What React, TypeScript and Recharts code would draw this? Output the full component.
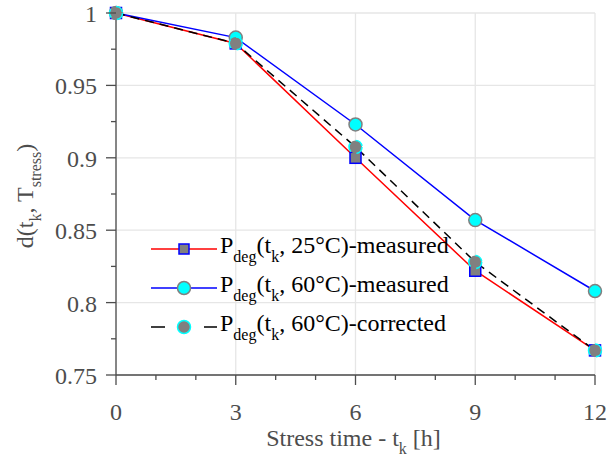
import React from 'react';
import { LineChart, Line, XAxis, YAxis, CartesianGrid, Legend } from 'recharts';

// stress time t_k [h]
const stressHours = [0, 3, 6, 9, 12];
// d(t_k, T_stress)
const measured25 = [1, 0.979, 0.9, 0.822, 0.767];
const measured60 = [1, 0.983, 0.923, 0.857, 0.808];
const corrected60 = [1, 0.979, 0.9075, 0.828, 0.767];

const xTicks = [0, 1, 2, 3, 4, 5, 6, 7, 8, 9, 10, 11, 12];
const xMajor = [0, 3, 6, 9, 12];
const yTicks = [0.75, 0.775, 0.8, 0.825, 0.85, 0.875, 0.9, 0.925, 0.95, 0.975, 1];
const yMajor = [0.75, 0.8, 0.85, 0.9, 0.95, 1];

const legendItems = [
  { key: 'm25', temp: '25°C', kind: 'measured' },
  { key: 'm60', temp: '60°C', kind: 'measured' },
  { key: 'c60', temp: '60°C', kind: 'corrected' },
];

const FONT = 'Liberation Serif';
const AXIS = '#4d4d4d';
const pageCss = `
body{margin:0}
#root .fig text, #root .fig tspan, #root .fig .recharts-wrapper text, #root .fig .recharts-wrapper tspan {
  font-family: "Liberation Serif", "Times New Roman", serif !important;
}`;

const data = stressHours.map((t, i) => ({
  t,
  m25: measured25[i],
  m60: measured60[i],
  c60: corrected60[i],
}));

const XTick = (props: any) => {
  const { x, y, payload } = props;
  const major = xMajor.includes(payload.value);
  return (
    <g>
      <line x1={x} x2={x} y1={y} y2={y + (major ? 10 : 5)} stroke={AXIS} strokeWidth={1.3} />
      {major && (
        <text x={x} y={y + 45} textAnchor="middle" fontFamily={FONT} fontSize={24} fill={AXIS}>
          {payload.value}
        </text>
      )}
    </g>
  );
};

const YTick = (props: any) => {
  const { x, y, payload } = props;
  const major = yMajor.includes(payload.value);
  return (
    <g>
      <line x1={x - (major ? 10 : 5)} x2={x} y1={y} y2={y} stroke={AXIS} strokeWidth={1.3} />
      {major && (
        <text x={x - 19} y={y + 9} textAnchor="end" fontFamily={FONT} fontSize={24} fill={AXIS}>
          {String(payload.value)}
        </text>
      )}
    </g>
  );
};

const XLabel = (props: any) => {
  const { x, y, width } = props.viewBox;
  return (
    <text x={x + width / 2 - 2} y={y + 71} textAnchor="middle" fontFamily={FONT} fontSize={24} fill={AXIS}>
      Stress time - t<tspan fontSize={16} dy={8}>k</tspan>
      <tspan dy={-8}> [h]</tspan>
    </text>
  );
};

const YLabel = (props: any) => {
  const { x, y, height } = props.viewBox;
  const cx = x + 33;
  const cy = y + height / 2 + 2;
  return (
    <text x={cx} y={cy} transform={`rotate(-90, ${cx}, ${cy})`} textAnchor="middle"
      fontFamily={FONT} fontSize={24} fill={AXIS}>
      d(t<tspan fontSize={16} dy={8}>k</tspan>
      <tspan dy={-8}>, T</tspan>
      <tspan fontSize={16} dy={8}>stress</tspan>
      <tspan dy={-8}>)</tspan>
    </text>
  );
};

const Square = (props: any) => {
  const { cx, cy, index } = props;
  return <rect key={`sq-${index}`} x={cx - 5.5} y={cy - 5.5} width={11} height={11} fill="#808080" stroke="#0000ff" strokeWidth={1.5} />;
};

const LegendBox = () => (
  <svg width={340} height={120}>
    {legendItems.map((it, i) => {
      const cy = 24 + i * 39;
      const line = it.key === 'm25' ? '#ff0000' : it.key === 'm60' ? '#0000ff' : '#000000';
      return (
        <g key={it.key}>
          <line x1={11} x2={77} y1={cy} y2={cy} stroke={line} strokeWidth={1.5}
            strokeDasharray={it.key === 'c60' ? '14 39' : undefined} />
          {it.key === 'm25' && (
            <rect x={39} y={cy - 5} width={10} height={10} fill="#808080" stroke="#0000ff" strokeWidth={1.5} />
          )}
          {it.key === 'm60' && <circle cx={44} cy={cy} r={6.5} fill="#00ffff" stroke="#808080" strokeWidth={1.5} />}
          {it.key === 'c60' && <circle cx={44} cy={cy} r={6.5} fill="#808080" stroke="#00ffff" strokeWidth={1.5} />}
          <text x={80} y={cy + 4} fontFamily={FONT} fontSize={24} fill="#000">
            P<tspan fontSize={16} dy={9}>deg</tspan>
            <tspan dy={-9}>(t</tspan>
            <tspan fontSize={16} dy={9}>k</tspan>
            <tspan dy={-9}>{`, ${it.temp})-${it.kind}`}</tspan>
          </text>
        </g>
      );
    })}
  </svg>
);

export default function App() {
  return (
    <div className="fig" style={{ width: 607, height: 461, fontFamily: FONT }}>
      <style>{pageCss}</style>
      <LineChart width={607} height={461} data={data} margin={{ top: 13, right: 12, left: 0, bottom: 0 }}
        style={{ fontFamily: FONT }}>
        <CartesianGrid stroke="#e6e6e6" strokeWidth={1.3} horizontalValues={yMajor} verticalValues={xMajor} />
        <XAxis type="number" dataKey="t" domain={[0, 12]} ticks={xTicks} interval={0} height={86}
          tickSize={0} tickMargin={0} tickLine={false} axisLine={{ stroke: AXIS, strokeWidth: 1.3 }}
          tick={<XTick />} label={<XLabel />} />
        <YAxis type="number" domain={[0.75, 1]} ticks={yTicks} interval={0} width={116}
          tickSize={0} tickMargin={0} tickLine={false} axisLine={{ stroke: AXIS, strokeWidth: 1.3 }}
          tick={<YTick />} label={<YLabel />} />
        <Legend layout="vertical" align="center" verticalAlign="middle" content={<LegendBox />}
          wrapperStyle={{ left: 140, top: 225, width: 340, height: 120 }} />
        <Line dataKey="m25" stroke="#ff0000" strokeWidth={1.5} dot={<Square />} isAnimationActive={false} />
        <Line dataKey="m60" stroke="#0000ff" strokeWidth={1.5}
          dot={{ r: 6.5, fill: '#00ffff', stroke: '#808080', strokeWidth: 1.5 }} isAnimationActive={false} />
        <Line dataKey="c60" stroke="#000000" strokeWidth={1.5} strokeDasharray="9 6"
          dot={{ r: 6.5, fill: '#808080', stroke: '#00ffff', strokeWidth: 1.5 }} isAnimationActive={false} />
      </LineChart>
    </div>
  );
}
